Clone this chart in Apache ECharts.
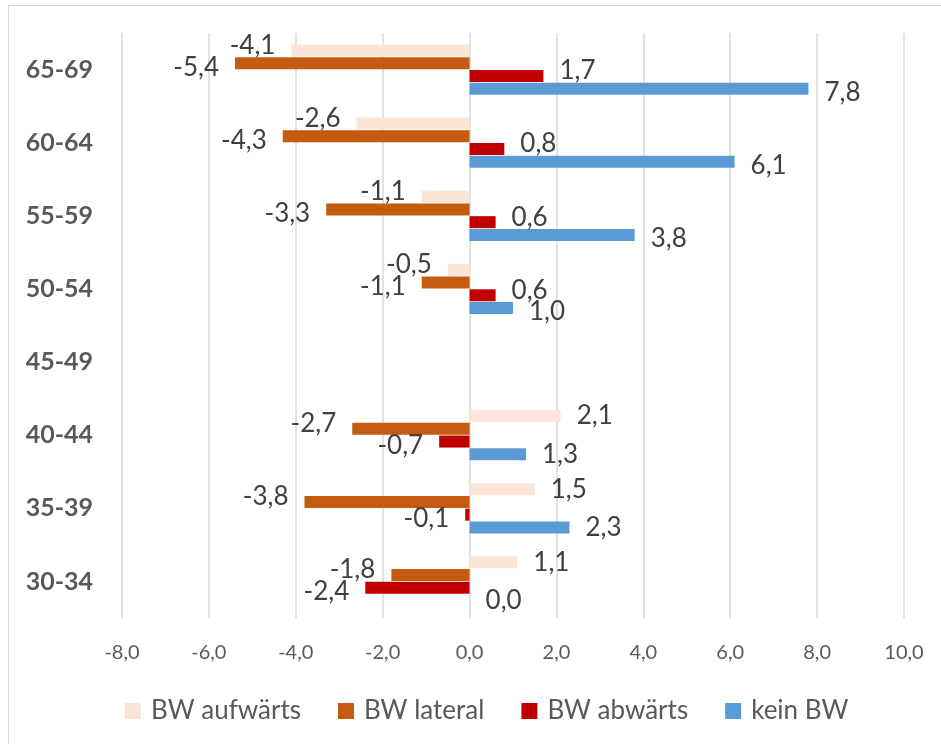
<!DOCTYPE html>
<html>
<head>
<meta charset="utf-8">
<script src="https://cdn.jsdelivr.net/npm/echarts@6/dist/echarts.min.js"></script>
<style>
	html, body { margin: 0; padding: 0; background: #fff; }
	#box { position: absolute; left: 8px; top: 5px; width: 940px; height: 745px; border: 1px solid #d9d9d9; box-sizing: border-box; }
	#chart { position: absolute; left: 0; top: 0; width: 941px; height: 744px; }
</style>
</head>
<body>
<div id="box"></div>
<div id="chart"></div>
<script>
let categories = ['30-34', '35-39', '40-44', '45-49', '50-54', '55-59', '60-64', '65-69'];
let series_names = ['BW aufwärts', 'BW lateral', 'BW abwärts', 'kein BW'];
let bw_auf = [1.1, 1.5, 2.1, null, -0.5, -1.1, -2.6, -4.1];
let bw_lat = [-1.8, -3.8, -2.7, null, -1.1, -3.3, -4.3, -5.4];
let bw_ab = [-2.4, -0.1, -0.7, null, 0.6, 0.6, 0.8, 1.7];
let kein_bw = [0.0, 2.3, 1.3, null, 1.0, 3.8, 6.1, 7.8];
let colors = ['#FBE5D6', '#C55A11', '#C00000', '#5B9BD5'];

let font = 'Lato, "Liberation Sans", sans-serif';
let fmt = (v) => v.toFixed(1).replace('.', ',');
let all = [bw_auf, bw_lat, bw_ab, kein_bw];

// 正负值标签放在柱子两端
function make_data(arr) {
	return arr.map((v) => {
		if (v === null) return '-';
		return { value: v, label: { position: v < 0 ? 'left' : 'right' } };
	});
}

// 同一侧相邻的标签上下错开（类似 Excel）
function same_side(a, b) {
	if (a === null || a === undefined || b === null || b === undefined) return false;
	return (a < 0) === (b < 0);
}
function label_shift(p) {
	let s = p.seriesIndex, d = p.dataIndex;
	let v = all[s][d];
	let dy = 0;
	if (s > 0 && same_side(all[s - 1][d], v)) dy += 4;
	if (s < all.length - 1 && same_side(all[s + 1][d], v)) dy -= 5;
	return { dy: dy };
}

let chart = echarts.init(document.getElementById('chart'));
let series = all.map((arr, i) => ({
	name: series_names[i],
	type: 'bar',
	data: make_data(arr),
	barWidth: 12,
	barGap: '6%',
	itemStyle: { color: colors[i] },
	label: {
		show: true,
		distance: 16,
		color: '#404040',
		fontSize: 26,
		fontFamily: font,
		formatter: (p) => fmt(p.value),
	},
	labelLayout: label_shift,
}));

chart.setOption({
	animation: false,
	color: colors,
	grid: { left: 122, right: 37, top: 33, bottom: 126 },
	legend: {
		data: series_names,
		left: 120,
		top: 693,
		itemWidth: 16,
		itemHeight: 16,
		itemGap: 37,
		icon: 'rect',
		textStyle: { color: '#595959', fontSize: 26, fontFamily: font, padding: [0, 0, 0, 5] },
	},
	xAxis: {
		type: 'value',
		min: -8,
		max: 10,
		interval: 2,
		axisLine: { show: false },
		axisTick: { show: false },
		axisLabel: { color: '#595959', fontSize: 20, fontFamily: font, margin: 25, formatter: fmt },
		splitLine: { lineStyle: { color: '#d9d9d9', width: 1.5 } },
	},
	yAxis: {
		type: 'category',
		data: categories,
		axisLine: { show: false },
		axisTick: { show: false },
		axisLabel: { color: '#595959', fontSize: 25, fontWeight: 'bold', fontFamily: font, margin: 29 },
	},
	series: series,
});
</script>
</body>
</html>
